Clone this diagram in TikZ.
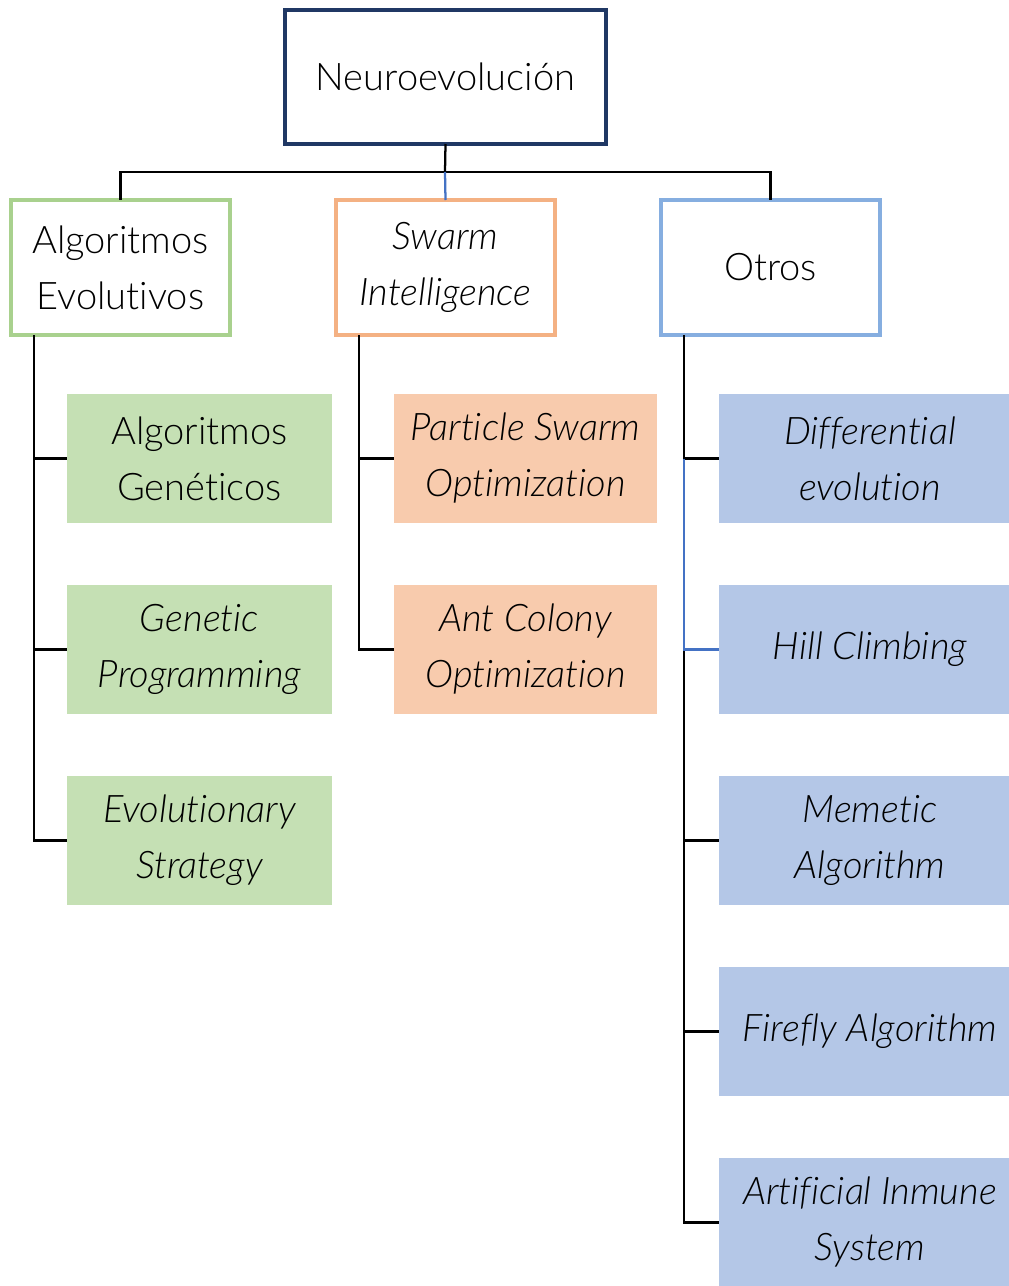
\documentclass[tikz,border=0pt]{standalone}
\usepackage{fontspec}
\setmainfont{Lato}[UprightFont={* Light},ItalicFont={* Light Italic},RawFeature={-liga;-calt;-dlig;-clig}]
\definecolor{navy}{HTML}{203864}
\definecolor{grnline}{HTML}{A9D18E}
\definecolor{grnfill}{HTML}{C5E0B4}
\definecolor{orgline}{HTML}{F4B183}
\definecolor{orgfill}{HTML}{F8CBAD}
\definecolor{bluline}{HTML}{86AEE0}
\definecolor{blufill}{HTML}{B4C7E7}
\definecolor{hilite}{HTML}{4472C4}
\begin{document}
\begin{tikzpicture}[x=0.75pt,y=-0.75pt,
  box/.style={rectangle,inner sep=0pt,outer sep=0pt,anchor=north west,align=center,
    font=\fontsize{28.5}{42}\selectfont},
  rootbox/.style={box,draw=navy,line width=3pt,fill=white,minimum width=321*0.75pt,minimum height=134*0.75pt},
  headbox/.style={box,line width=2.6pt,fill=white,minimum width=219*0.75pt,minimum height=135*0.75pt},
  leafbox/.style={box,minimum height=129*0.75pt},
  link/.style={line width=1.7pt,black},
  hlink/.style={line width=1.7pt,hilite}]
\useasboundingbox (0,0) rectangle (1009,1286);
\clip (0,0) rectangle (1009,1286);

% top level
\node[rootbox] (root) at (285,10) {Neuroevolución};

% second level
\node[headbox,draw=grnline] (ae) at (11,200) {Algoritmos\\Evolutivos};
\node[headbox,draw=orgline] (si) at (336,200) {\itshape Swarm\\\itshape Intelligence};
\node[headbox,draw=bluline] (ot) at (661,200) {Otros};

% leaves: evolutionary algorithms
\node[leafbox,fill=grnfill,minimum width=265*0.75pt] (ag) at (67,394) {Algoritmos\\Genéticos};
\node[leafbox,fill=grnfill,minimum width=265*0.75pt] (gp) at (67,585) {\itshape Genetic\\\itshape Programming};
\node[leafbox,fill=grnfill,minimum width=265*0.75pt] (es) at (67,776) {\itshape Evolutionary\\\itshape Strategy};

% leaves: swarm intelligence
\node[leafbox,fill=orgfill,minimum width=263*0.75pt] (pso) at (394,394) {\itshape Particle Swarm\\\itshape Optimization};
\node[leafbox,fill=orgfill,minimum width=263*0.75pt] (aco) at (394,585) {\itshape Ant Colony\\\itshape Optimization};

% leaves: others
\node[leafbox,fill=blufill,minimum width=302*0.75pt] (de) at (719,394) {\itshape Differential\\\itshape evolution};
\node[leafbox,fill=blufill,minimum width=302*0.75pt] (hc) at (719,585) {\itshape Hill Climbing};
\node[leafbox,fill=blufill,minimum width=302*0.75pt] (ma) at (719,776) {\itshape Memetic\\\itshape Algorithm};
\node[leafbox,fill=blufill,minimum width=302*0.75pt] (fa) at (719,967) {\itshape Firefly Algorithm};
\node[leafbox,fill=blufill,minimum width=302*0.75pt] (ais) at (719,1158) {\itshape Artificial Inmune\\\itshape System};

% top connectors
\coordinate (bar) at (445,172);
\draw[link] (root.south) -- (bar);
\draw[link] (bar) -| (ae.north);
\draw[link] (bar) -| (ot.north);
\draw[hlink] (bar) -- (si.north);

% column stems
\coordinate (aes) at (34,335);
\coordinate (sis) at (359,335);
\coordinate (ots) at (684,335);

\foreach \leaf in {ag,gp,es} \draw[link] (aes) |- (\leaf.west);
\foreach \leaf in {pso,aco} \draw[link] (sis) |- (\leaf.west);
\foreach \leaf in {de,ma,fa,ais} \draw[link] (ots) |- (\leaf.west);
\draw[hlink] (de.west -| ots) |- (hc.west);
\end{tikzpicture}
\end{document}
